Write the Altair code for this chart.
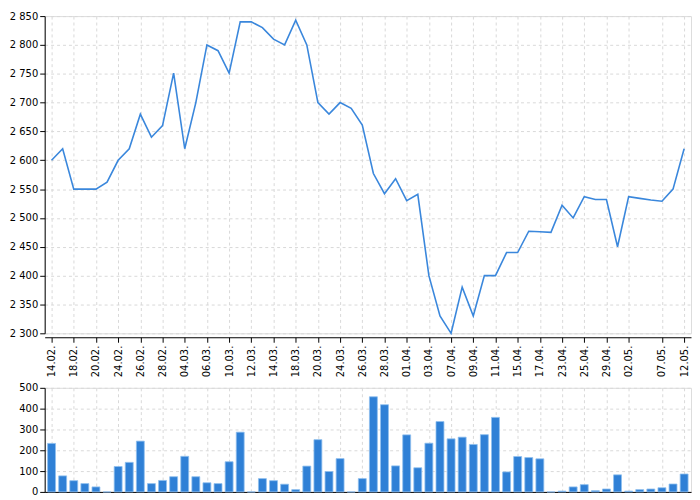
import altair as alt
import pandas as pd

dates = ["14.02.", "17.02.", "18.02.", "19.02.", "20.02.", "21.02.", "24.02.", "25.02.",
         "26.02.", "27.02.", "28.02.", "03.03.", "04.03.", "05.03.", "06.03.", "07.03.",
         "10.03.", "11.03.", "12.03.", "13.03.", "14.03.", "17.03.", "18.03.", "19.03.",
         "20.03.", "21.03.", "24.03.", "25.03.", "26.03.", "27.03.", "28.03.", "31.03.",
         "01.04.", "02.04.", "03.04.", "04.04.", "07.04.", "08.04.", "09.04.", "10.04.",
         "11.04.", "14.04.", "15.04.", "16.04.", "17.04.", "22.04.", "23.04.", "24.04.",
         "25.04.", "28.04.", "29.04.", "30.04.", "02.05.", "05.05.", "06.05.", "07.05.",
         "08.05.", "12.05."]

price = [2600, 2620, 2550, 2550, 2550, 2562, 2600, 2620, 2680, 2640, 2660, 2751, 2620, 2700,
         2800, 2790, 2751, 2840, 2840, 2830, 2810, 2800, 2843, 2800, 2700, 2680, 2700, 2690,
         2661, 2577, 2542, 2568, 2530, 2541, 2400, 2330, 2300, 2380, 2330, 2400, 2400, 2440,
         2440, 2477, 2476, 2475, 2522, 2500, 2537, 2532, 2532, 2450, 2537, 2534, 2531, 2529,
         2550, 2620]

volume = [233, 77, 54, 40, 24, 0, 122, 142, 244, 40, 55, 73, 171, 73, 44, 40, 145, 287,
          0, 64, 54, 37, 11, 124, 251, 98, 160, 0, 64, 457, 419, 125, 274, 116, 234, 338,
          255, 263, 228, 275, 358, 96, 170, 165, 159, 0, 4, 24, 35, 6, 14, 82, 4, 11, 14,
          20, 38, 86]

tick_labels = ["14.02.", "18.02.", "20.02.", "24.02.", "26.02.", "28.02.", "04.03.", "06.03.",
               "10.03.", "12.03.", "14.03.", "18.03.", "20.03.", "24.03.", "26.03.", "28.03.",
               "01.04.", "03.04.", "07.04.", "09.04.", "11.04.", "15.04.", "17.04.", "23.04.",
               "25.04.", "29.04.", "02.05.", "07.05.", "12.05."]

df = pd.DataFrame({"date": dates, "price": price, "volume": volume})

FONT = "DejaVu Sans"
FS = 10
W = 652
GRID = dict(grid=True, gridColor="#d9d9d9", gridDash=[3, 3], gridWidth=1)

xscale = alt.Scale(type="point", domain=dates, padding=0.62)

line = alt.Chart(df).mark_line(color="#3a87dc", strokeWidth=1.6).encode(
    x=alt.X("date:O", sort=dates, scale=xscale, title=None,
            axis=alt.Axis(values=tick_labels, labelAngle=270, labelFontSize=FS,
                          labelFont=FONT, labelColor="#000", domainColor="#000",
                          tickColor="#000", tickSize=5, offset=4, labelPadding=3,
                          **GRID)),
    y=alt.Y("price:Q", scale=alt.Scale(domain=[2300, 2850], nice=False, zero=False),
            title=None,
            axis=alt.Axis(values=list(range(2300, 2851, 50)),
                          labelExpr="replace(format(datum.value, ','), ',', ' ')",
                          labelFontSize=FS, labelFont=FONT, labelColor="#000",
                          domainColor="#000", tickColor="#000", tickSize=5,
                          labelPadding=2, minExtent=30, maxExtent=30, **GRID)),
).properties(width=W, height=320)

bars = alt.Chart(df).mark_bar(size=8, color="#2f80d6", stroke="#8fc0ee",
                              strokeWidth=1, strokeOpacity=0.8).encode(
    x=alt.X("date:O", sort=dates, scale=xscale, title=None,
            axis=alt.Axis(values=tick_labels, labels=False, ticks=False,
                          domainColor="#000", **GRID)),
    y=alt.Y("volume:Q", scale=alt.Scale(domain=[0, 500], nice=False), title=None,
            axis=alt.Axis(values=[0, 100, 200, 300, 400, 500], labelFontSize=FS,
                          labelFont=FONT, labelColor="#000", domainColor="#000",
                          tickColor="#000", tickSize=5, labelPadding=2,
                          minExtent=30, maxExtent=30, **GRID)),
).properties(width=W, height=105)

chart = alt.vconcat(line, bars, spacing=4).properties(
    padding={"left": 0, "top": 0, "right": 0, "bottom": 0},
).configure_view(stroke=None).configure(background="white")

chart.save("out.html", embed_options={"renderer": "svg", "actions": False})
